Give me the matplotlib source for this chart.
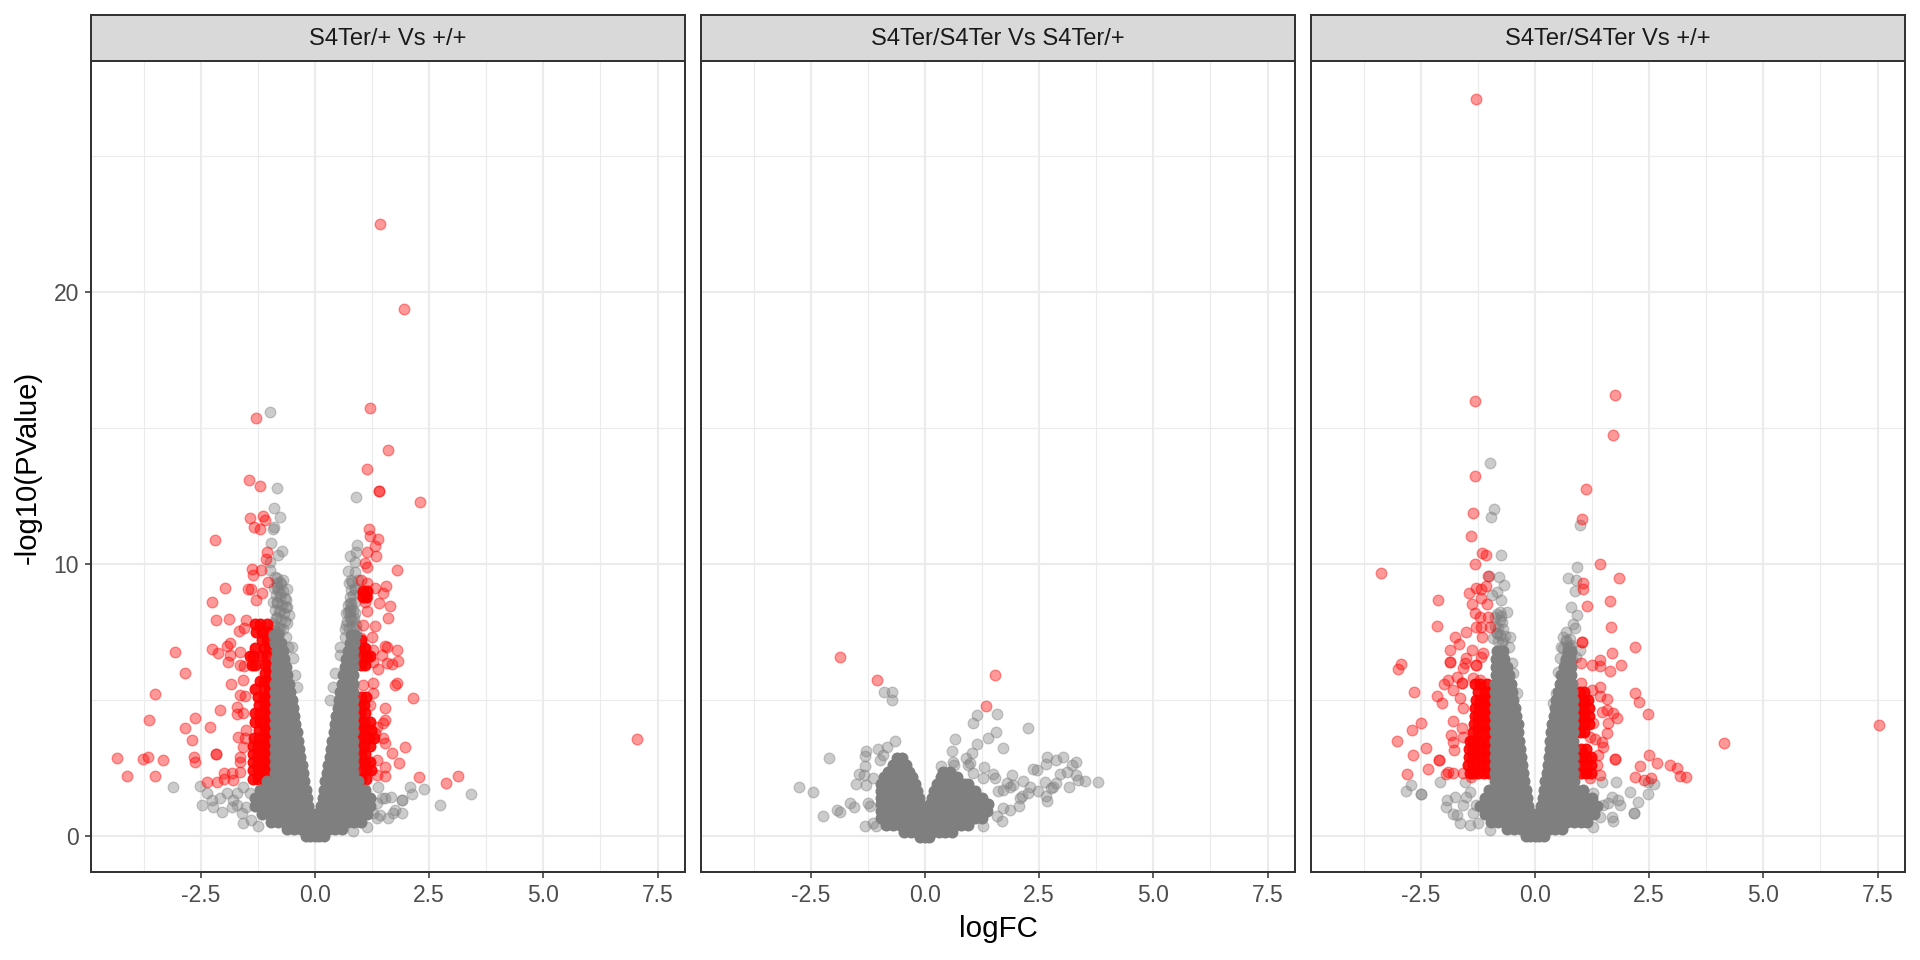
import matplotlib
matplotlib.use("Agg")
import matplotlib.pyplot as plt

plt.rcParams["font.family"] = ["Liberation Sans", "DejaVu Sans"]

# --------------------------------------------
# DATA
# --------------------------------------------

panel_titles = ["S4Ter/+ Vs +/+", "S4Ter/S4Ter Vs S4Ter/+", "S4Ter/S4Ter Vs +/+"]
x_ticks = [-2.5, 0.0, 2.5, 5.0, 7.5]
x_tick_labels = ["-2.5", "0.0", "2.5", "5.0", "7.5"]
x_minor = [-3.75, -1.25, 1.25, 3.75, 6.25]
y_ticks = [0, 10, 20]
y_tick_labels = ["0", "10", "20"]
y_minor = [5, 15, 25]

# panel 1, single points
p1_red_x = [1.42, 1.95, 1.21, 1.61, 1.13, 1.4, 1.4, 2.3, 7.06,
            -1.29, -1.44, -1.2, -1.43, -1.13, -1.09, -1.33, -1.2, -2.19, -1.04, -1.08, -1.37, -1.17, -1.36, -1.02,
            -1.97, -1.47, -1.39, -1.15, -2.26, -1.28, -2.17, -1.88, -1.5, -1.66, -1.55, -3.06, -2.25, -2.13, -1.93,
            -1.85, -1.9, -1.85, -1.64, -1.64, -1.55, -2.84, -1.84, -1.57, -3.5, -1.64, -1.53, -1.71, -2.07, -2.63,
            -3.63, -1.71, -1.57, -2.29, -2.84, -2.69, -1.68, -1.53, -1.5, -1.57, -2.17, -2.17, -2.65, -2.63, -4.34,
            -3.77, -3.65, -3.32, -4.12, -3.49, -1.64, -1.64, -1.82, -1.99, -2.0, -2.15, -2.37, -1.79, -1.64,
            1.19, 1.2, 1.39, 1.31, 1.13, 1.33, 1.09, 1.15, 1.79, 1.02, 1.13, 1.31, 1.55, 1.06, 1.15, 1.5, 1.09, 1.41,
            1.64, 1.13, 1.59, 1.31, 1.06, 1.02, 1.24, 1.06, 1.53, 1.57, 1.79, 1.28, 1.46, 1.13, 1.28, 1.57, 1.69,
            1.82, 1.39, 1.79, 1.75, 1.28, 1.06, 1.28, 2.15, 1.53, 1.2, 1.53, 1.5, 1.35, 1.31, 1.5, 1.53, 1.98, 1.68,
            1.84, 1.53, 1.35, 1.53, 1.35, 2.28, 3.14, 2.88]
p1_red_y = [22.5, 19.4, 15.73, 14.18, 13.5, 12.69, 12.69, 12.27, 3.55,
            15.39, 13.09, 12.87, 11.7, 11.77, 11.6, 11.35, 11.28, 10.88, 10.43, 10.2, 9.83, 9.77, 9.6, 9.35,
            9.1, 9.07, 9.07, 8.95, 8.6, 8.68, 7.95, 7.96, 7.94, 7.55, 7.63, 6.75, 6.88, 6.71, 6.98,
            7.1, 6.4, 6.64, 6.77, 6.28, 6.25, 5.98, 5.6, 5.73, 5.23, 5.18, 5.14, 4.75, 4.61, 4.34,
            4.27, 4.47, 4.5, 4.01, 3.95, 3.52, 3.64, 3.58, 3.89, 3.28, 3.0, 3.0, 2.91, 2.72, 2.86,
            2.83, 2.91, 2.79, 2.21, 2.2, 2.91, 2.72, 2.29, 2.29, 2.09, 1.96, 1.99, 2.05, 2.36,
            11.29, 11.03, 10.92, 10.67, 10.45, 10.29, 10.05, 9.88, 9.77, 9.41, 9.29, 9.1, 9.2, 8.92, 8.8, 8.92, 8.61, 8.58,
            8.47, 8.27, 8.02, 7.72, 7.75, 7.26, 7.3, 6.9, 6.99, 6.96, 6.83, 6.83, 6.65, 6.53, 6.4, 6.34, 6.32,
            6.43, 6.12, 5.63, 5.55, 5.61, 5.55, 5.24, 5.08, 4.69, 4.81, 4.26, 4.13, 4.01, 3.77, 3.58, 3.4, 3.28, 3.03,
            2.69, 2.54, 2.79, 2.21, 2.23, 2.17, 2.21, 1.93]
p1_grey_x = [-0.98, -0.82, -0.89, -0.77, -0.9, -0.91, -0.97, -0.73, -0.8, -0.98, -0.98, -0.88, -0.77, -0.62, -0.84,
             -0.77, -0.63, -0.84, -0.62, -0.77, -0.56, -0.84, -0.62, -0.91, -0.77, -0.63, -0.84, -0.51, -0.47, -0.58,
             -0.44, -0.4,
             0.91, 0.93, 0.77, 0.91, 0.88, 0.73, 0.88, 0.8, 0.95, 0.88, 0.77, 0.73, 0.88, 0.69, 0.84, 0.66, 0.55, 0.55,
             0.44, 0.4, 0.33, 0.77, 0.8, 0.77, 0.91,
             -3.1, -2.52, -2.48, -2.26, -2.22, -2.03, -1.82, -1.93, -2.08, -1.71, -1.57, -1.58, -1.24, -1.39, -1.6,
             -2.37, -1.79, -1.5, -1.42, -1.71,
             3.41, 2.74, 2.39, 2.09, 2.12, 1.9, 1.9, 1.9, 1.7, 1.6, 1.66, 1.46, 1.39, 1.13, 1.35, 1.28, 1.42, 1.35,
             1.53, 1.75, 0.84,
             -0.7, -0.8, -0.9, -0.65, -0.75, -0.85, -0.68, -0.78, -0.88, -0.72, -0.82, -0.92, -0.66, -0.76, -0.86,
             -0.7, -0.8, -0.9, -0.74, -0.84, -0.64, -0.78, -0.88, -0.7, -0.82,
             0.66, 0.74, 0.82, 0.9, 0.7, 0.78, 0.86, 0.68, 0.76, 0.84, 0.72, 0.8, 0.88, 0.76, 0.84, 0.8, 0.88, 0.74, 0.82]
p1_grey_y = [15.58, 12.8, 12.05, 11.74, 11.37, 11.3, 10.76, 10.48, 10.33, 10.09, 9.78, 9.53, 9.35, 9.07, 9.17,
             8.92, 8.67, 8.61, 8.43, 8.31, 8.12, 8.06, 7.82, 7.82, 7.63, 7.33, 7.45, 6.96, 6.53, 6.96,
             5.91, 5.48,
             12.48, 10.7, 10.29, 10.45, 10.09, 9.74, 9.72, 9.41, 9.41, 9.04, 8.55, 8.25, 8.18, 7.75, 7.94, 7.33, 6.96, 6.65,
             5.98, 5.48, 5.0, 8.31, 8.43, 8.06, 7.57,
             1.78, 1.83, 1.13, 1.31, 1.07, 0.86, 1.07, 1.56, 1.37, 1.56, 1.8, 0.45, 0.37, 0.58, 0.82,
             1.56, 1.31, 1.07, 1.56, 1.13,
             1.55, 1.13, 1.71, 1.8, 1.52, 1.31, 1.31, 0.85, 0.85, 0.66, 1.44, 1.37, 1.8, 0.31, 0.64, 0.82, 0.76, 1.19,
             1.37, 0.94, 0.18,
             7.6, 7.65, 7.7, 7.9, 7.95, 8.0, 8.2, 8.25, 8.3, 8.5, 8.55, 8.6, 8.75, 8.8, 8.85,
             9.0, 9.05, 9.1, 9.25, 9.3, 8.4, 7.5, 7.55, 9.4, 9.5,
             7.6, 7.65, 7.7, 7.75, 7.9, 7.95, 8.0, 8.2, 8.25, 8.3, 8.5, 8.55, 8.6, 8.8, 8.85, 9.05, 9.1, 9.3, 9.35]

# panel 1, the packed part of the cloud, row by row
p1_core_y = [0.0, 0.25, 0.5, 0.8, 1.1, 1.4, 1.7, 2.0, 2.3, 2.6, 2.9, 3.2, 3.5, 3.8, 4.1, 4.4, 4.7, 5.0, 5.3, 5.6,
             5.9, 6.2, 6.5, 6.8, 7.1, 7.4]
p1_core_x = [
    [-0.2, -0.1, 0, 0.1, 0.2],
    [-0.6, -0.45, -0.3, -0.15, 0, 0.15, 0.3, 0.45, 0.6],
    [-0.95, -0.8, -0.65, -0.5, -0.35, -0.2, -0.05, 0.1, 0.25, 0.4, 0.55, 0.7, 0.85, 1.0],
    [-1.15, -1.0, -0.85, -0.7, -0.55, -0.4, -0.25, -0.12, 0, 0.12, 0.25, 0.4, 0.55, 0.7, 0.85, 1.0, 1.15],
    [-1.3, -1.15, -1.0, -0.85, -0.7, -0.55, -0.4, -0.25, -0.14, 0.14, 0.25, 0.4, 0.55, 0.7, 0.85, 1.0, 1.2],
    [-1.3, -1.15, -1.0, -0.85, -0.7, -0.55, -0.4, -0.28, -0.17, 0.17, 0.28, 0.4, 0.55, 0.7, 0.85, 1.0, 1.2],
    [-1.2, -1.05, -0.9, -0.75, -0.6, -0.45, -0.32, -0.2, 0.2, 0.32, 0.45, 0.6, 0.75, 0.9, 1.1],
    [-1.05, -0.9, -0.75, -0.6, -0.45, -0.33, -0.23, 0.23, 0.35, 0.5, 0.65, 0.8, 0.95],
    [-0.88, -0.72, -0.56, -0.4, -0.26, 0.26, 0.4, 0.55, 0.7, 0.84],
    [-0.88, -0.72, -0.56, -0.42, -0.29, 0.29, 0.42, 0.56, 0.7, 0.84],
    [-0.88, -0.72, -0.56, -0.44, -0.32, 0.32, 0.44, 0.56, 0.7, 0.84],
    [-0.88, -0.72, -0.58, -0.46, -0.35, 0.35, 0.46, 0.58, 0.7, 0.84],
    [-0.88, -0.74, -0.6, -0.48, -0.38, 0.38, 0.48, 0.6, 0.72, 0.84],
    [-0.88, -0.74, -0.6, -0.5, -0.4, 0.41, 0.5, 0.6, 0.72, 0.84],
    [-0.88, -0.75, -0.62, -0.52, -0.43, 0.44, 0.54, 0.64, 0.74, 0.84],
    [-0.88, -0.76, -0.64, -0.55, -0.46, 0.47, 0.56, 0.66, 0.75, 0.84],
    [-0.88, -0.78, -0.68, -0.58, -0.49, 0.5, 0.58, 0.66, 0.75, 0.84],
    [-0.88, -0.78, -0.68, -0.6, -0.51, 0.53, 0.6, 0.68, 0.76, 0.84],
    [-0.88, -0.8, -0.7, -0.62, -0.54, 0.56, 0.63, 0.7, 0.77, 0.84],
    [-0.88, -0.8, -0.72, -0.64, -0.57, 0.59, 0.66, 0.72, 0.78, 0.84],
    [-0.86, -0.78, -0.7, -0.6, 0.62, 0.68, 0.75, 0.84],
    [-0.85, -0.76, -0.69, -0.63, 0.65, 0.72, 0.78, 0.84],
    [-0.85, -0.76, -0.68, 0.68, 0.76, 0.83],
    [-0.84, -0.77, -0.7, 0.72, 0.78, 0.84],
    [-0.88, -0.82, -0.75, 0.76, 0.86],
    [-0.9, -0.8, 0.8, 0.88],
]
p1_red_core_y = [2.1, 2.4, 2.7, 3.0, 3.3, 3.6, 3.9, 4.2, 4.5, 4.8, 5.1, 5.4, 5.7, 6.0, 6.3, 6.6, 6.9, 7.2, 7.5, 7.8,
                 8.8, 9.0]
p1_red_core_x = [
    [-1.0, -1.12, -1.24, -1.36, 1.0, 1.12],
    [-1.0, -1.12, -1.24, -1.36, 1.0, 1.12, 1.22],
    [-1.0, -1.12, -1.24, -1.36, 0.98, 1.1, 1.2],
    [-1.0, -1.12, -1.24, -1.36, 1.0, 1.1],
    [-1.0, -1.12, -1.24, -1.36, 0.96, 1.08, 1.2],
    [-1.0, -1.1, -1.22, -1.34, 0.95, 1.05, 1.18, 1.3],
    [-1.0, -1.1, -1.22, 0.98, 1.1, 1.22],
    [-1.0, -1.1, -1.2, -1.32, 0.98, 1.08, 1.2],
    [-1.0, -1.1, -1.2, -1.3, 0.98, 1.1],
    [-1.0, -1.1, -1.22, 0.98, 1.08],
    [-1.0, -1.12, -1.25, 1.0, 1.12],
    [-1.0, -1.1, -1.32],
    [-1.0, -1.12, -1.2],
    [-1.0, -1.1],
    [-1.02, -1.1, -1.3, -1.38, 1.0, 1.1],
    [-1.05, -1.15, -1.35, -1.42, 1.0, 1.12, 1.2],
    [-1.0, -1.12, -1.3, 0.98, 1.1],
    [-1.05, -1.15, 1.0],
    [-1.02, -1.15, -1.28],
    [-1.05, -1.2, -1.32],
    [1.05, 1.12],
    [1.05, 1.15],
]

# panel 2
p2_red_x = [-1.85, -1.04, 1.54, 1.33]
p2_red_y = [6.56, 5.74, 5.92, 4.77]
p2_grey_x = [-0.9, -0.72, -0.71, 1.15, 1.57, 1.06, 2.25, 1.55, 1.39, 0.66, 1.13, 1.72, 0.6, 1.04, -0.66, -2.1, -1.28,
             -1.02, -1.3, -0.84, -0.91, -0.98, -1.31, 0.9, 0.98, 0.62, 0.64, 0.95, 1.29, 0.36, 1.06, 1.5, 1.53, 1.9,
             1.28, -1.45, -1.33, -1.13, -1.5, -1.28, -2.75, -2.44, -2.22, -1.92, -1.85, -1.64, -1.55, -1.24, -1.2,
             -1.31, -1.13, -1.06, 1.28, 1.68, 1.57, 1.71, 1.86, 2.06, 2.12, 2.26, 2.48, 1.86, 1.79, 1.71, 1.6, 2.15,
             2.3, 2.63, 2.66, 2.68, 2.77, 2.88, 2.81, 2.95, 3.16, 3.1, 3.36, 3.5, 3.79, 3.3, 3.21, 3.3, 3.03, 2.88,
             2.68, 2.66, 2.36, 2.46, 2.08, 1.93]
p2_grey_y = [5.27, 5.27, 5.0, 4.45, 4.47, 4.15, 3.95, 3.8, 3.59, 3.57, 3.38, 3.21, 3.11, 3.04, 3.49, 2.86, 3.1,
             3.2, 2.94, 3.28, 2.98, 2.79, 2.55, 2.86, 2.67, 2.73, 2.61, 2.61, 2.52, 2.55, 2.3, 2.27, 2.14, 2.24,
             2.12, 2.28, 2.23, 2.12, 1.89, 1.85, 1.78, 1.61, 0.71, 0.96, 0.86, 1.2, 1.04, 1.2, 1.08,
             0.34, 0.47, 0.34, 0.34, 0.55, 0.71, 1.02, 0.93, 1.08, 1.45, 1.57, 1.63, 1.81, 1.94, 1.69, 1.63, 2.02,
             1.78, 1.96, 1.45, 1.26, 1.75, 1.94, 1.81, 2.28, 1.78, 2.33, 2.06, 2.03, 1.97, 2.24, 2.61, 2.7, 2.88, 2.79,
             2.88, 2.65, 2.46, 2.4, 1.38, 1.88]
p2_core_y = [-0.05, 0.15, 0.4, 0.65, 0.9, 1.15, 1.4, 1.65, 1.9, 2.15, 2.35, 2.6, 2.85]
p2_core_x = [
    [-0.1, 0, 0.1],
    [-0.45, -0.3, -0.15, 0, 0.15, 0.3, 0.45, 0.6],
    [-0.85, -0.7, -0.55, -0.4, -0.25, -0.1, 0.05, 0.2, 0.35, 0.5, 0.65, 0.8, 0.95],
    [-0.95, -0.8, -0.65, -0.5, -0.35, -0.2, -0.05, 0.05, 0.2, 0.35, 0.5, 0.65, 0.8, 0.95, 1.1, 1.25],
    [-0.95, -0.8, -0.65, -0.5, -0.35, -0.2, -0.07, 0.09, 0.2, 0.35, 0.5, 0.65, 0.8, 0.95, 1.1, 1.25, 1.35],
    [-0.95, -0.8, -0.65, -0.5, -0.35, -0.2, -0.1, 0.12, 0.25, 0.4, 0.55, 0.7, 0.85, 1.0, 1.15, 1.3, 1.38],
    [-0.95, -0.8, -0.65, -0.5, -0.35, -0.22, -0.13, 0.16, 0.3, 0.45, 0.6, 0.75, 0.9, 1.05, 1.25],
    [-0.95, -0.8, -0.65, -0.5, -0.35, -0.25, -0.17, 0.2, 0.35, 0.5, 0.65, 0.8, 0.95, 1.1],
    [-0.95, -0.8, -0.65, -0.5, -0.35, -0.22, 0.27, 0.4, 0.55, 0.7, 0.85, 0.95],
    [-0.9, -0.75, -0.6, -0.45, -0.29, 0.35, 0.47, 0.6, 0.7],
    [-0.8, -0.67, -0.52, -0.35, 0.4, 0.55],
    [-0.7, -0.55, -0.42],
    [-0.6, -0.5],
]

# panel 3
p3_red_x = [-1.28, -1.31, 1.76, 1.7, -1.31, 1.12, 1.04, -1.35, -1.39, -1.15, -1.07, -1.31, 1.42, -3.36, 1.83, 1.06, 1.06,
            -1.02, -1.28, -1.17, -1.07, -1.44, -2.11, -1.17, -1.37, -1.04, 1.64, 1.13, -1.3, -1.2, -1.02, -2.14, -1.28,
            -1.17, -0.98, 1.67, -1.5, -1.15, -1.74, -1.66, -1.86, 1.04, 1.04, 2.2, 1.68, -1.37, -1.13, -1.86, -1.86,
            -2.92, -3.0, -1.5, -1.53, -1.28, -1.28, -1.57, -1.17, 1.02, 1.24, 1.42, 1.42, 1.88, 1.65, -1.98, -1.9, -1.71,
            -1.6, -1.6, -1.35, -1.2, -1.79, -1.64, -2.65, -2.14, -2.04, 1.02, 1.24, 1.42, 1.42, 1.57, 2.19, 2.28, 2.47,
            1.57, 1.47, 1.71, 1.8, 1.6, 1.57, 1.28, 1.2, 1.31, 1.46, 1.5, -2.5, -2.68, -3.02, -2.39, -2.67, -2.35, -2.79,
            -2.1, -2.1, -1.79, -1.84, -1.79, -1.77, -1.57, -1.6, -1.57, -1.95, -1.9, -1.79, -1.57, -1.39, 2.49, 2.3,
            2.68, 2.95, 3.1, 3.17, 3.3, 2.2, 2.39, 2.54, 1.75, 1.75, 1.39, 1.35, 1.42, 1.2, 1.06, 4.14, 7.54]
p3_red_y = [27.1, 15.98, 16.2, 14.76, 13.24, 12.76, 11.64, 11.89, 11.03, 10.39, 10.33, 10.0, 9.99, 9.68, 9.5, 9.31, 9.07,
            9.57, 9.13, 9.07, 9.19, 8.92, 8.67, 8.74, 8.53, 8.53, 8.64, 8.45, 8.18, 8.06, 8.06, 7.71, 7.67,
            7.67, 7.67, 7.69, 7.48, 7.3, 7.3, 7.04, 6.83, 7.14, 7.14, 6.96, 6.74, 6.83, 6.71, 6.38, 6.38,
            6.31, 6.15, 6.53, 6.34, 6.28, 6.28, 6.16, 6.59, 6.34, 6.28, 6.47, 6.26, 6.28, 6.07, 5.57, 5.73, 5.85,
            5.61, 5.61, 5.79, 5.73, 5.36, 5.06, 5.3, 5.14, 4.9, 5.61, 5.36, 5.48, 5.14, 5.03, 5.24, 4.93, 4.47,
            4.63, 4.54, 4.5, 4.32, 4.13, 3.77, 4.13, 3.64, 3.55, 3.46, 3.28, 4.16, 3.89, 3.48, 3.24, 2.97, 2.47, 2.27,
            2.8, 2.8, 4.23, 3.69, 3.46, 3.15, 4.69, 3.95, 3.64, 2.26, 2.36, 2.32, 2.32, 2.17, 2.97, 2.58,
            2.66, 2.59, 2.48, 2.21, 2.16, 2.15, 2.05, 2.13, 2.81, 2.81, 2.97, 2.6, 2.23, 2.13, 3.03, 3.4, 4.09]
p3_grey_x = [-0.98, -0.9, -0.97, -0.74, -0.79, -0.68, -1.01, -0.84, -0.93, -0.75, 0.98, 0.93, 0.73, 0.91, 0.88, 0.8, 0.93,
             0.84, 0.69, 0.88, 0.62, 0.69, 0.77, 0.98, 0.58, 0.55, 0.91, 0.51, 0.69, 0.47, 0.4,
             -0.62, -0.77, -0.88, -0.73, -0.91, -0.55, -0.56, -0.84, -0.69, -0.51, -0.47, -0.4, -0.77,
             -2.71, -2.82, -2.5, -2.5, -2.08, -1.52, -1.42, -1.93, -1.75, -1.95, -1.8, -1.63, -1.42, -1.57, -1.35, -1.24,
             -0.98, -1.5, -1.28, -1.71,
             1.46, 1.77, 2.08, 2.6, 2.47, 2.48, 2.26, 2.17, 2.17, 1.86, 1.68, 1.82, 1.71, 1.68, 1.28, 1.5, 1.42, 1.28, 1.6,
             -0.72, -0.8, -0.66, -0.76, -0.84, -0.7, -0.8, -0.88, -0.74, -0.82,
             0.66, 0.74, 0.82, 0.7, 0.78, 0.62, 0.72, 0.8, 0.68, 0.76]
p3_grey_y = [13.72, 12.02, 11.74, 10.33, 9.53, 9.23, 9.57, 8.98, 8.86, 8.67, 11.44, 9.9, 9.5, 9.41, 9.0, 8.43, 8.12,
             7.78, 7.48, 7.66, 7.33, 7.14, 6.96, 6.83, 6.96, 6.53, 6.59, 6.04, 6.22, 5.24, 4.87,
             8.25, 8.25, 8.06, 7.88, 7.26, 7.3, 6.96, 7.45, 7.2, 6.34, 5.98, 5.24, 7.94,
             1.87, 1.64, 1.53, 1.53, 1.98, 1.99, 1.62, 1.31, 1.44, 1.04, 0.79, 0.45, 0.39, 1.13, 0.82, 0.45,
             0.21, 1.44, 1.13, 0.76,
             1.99, 1.96, 1.6, 1.9, 1.99, 1.52, 1.25, 0.82, 0.82, 1.13, 1.44, 1.31, 0.55, 0.7, 0.33, 1.13, 0.7, 1.56, 1.19,
             7.1, 7.15, 7.35, 7.4, 7.45, 7.6, 7.65, 7.7, 8.1, 8.15,
             6.4, 6.45, 6.5, 6.7, 6.75, 6.9, 6.95, 7.0, 7.2, 7.25]
p3_core_y = [0.0, 0.25, 0.5, 0.8, 1.1, 1.4, 1.7, 2.0, 2.3, 2.6, 2.9, 3.2, 3.5, 3.8, 4.1, 4.4, 4.7, 5.0, 5.3, 5.6,
             5.9, 6.2, 6.5, 6.8]
p3_core_x = [
    [-0.2, -0.1, 0, 0.1, 0.2],
    [-0.6, -0.45, -0.3, -0.15, 0, 0.15, 0.3, 0.45, 0.6],
    [-0.95, -0.8, -0.65, -0.5, -0.35, -0.2, -0.05, 0.1, 0.25, 0.4, 0.55, 0.7, 0.85, 1.0, 1.15],
    [-1.1, -1.0, -0.85, -0.7, -0.55, -0.4, -0.25, -0.12, 0, 0.12, 0.25, 0.4, 0.55, 0.7, 0.85, 1.0, 1.15, 1.3],
    [-1.2, -1.05, -0.9, -0.75, -0.6, -0.45, -0.3, -0.14, 0.14, 0.3, 0.45, 0.6, 0.75, 0.9, 1.05, 1.2, 1.35],
    [-1.1, -0.95, -0.8, -0.65, -0.5, -0.35, -0.17, 0.17, 0.35, 0.5, 0.65, 0.8, 0.95, 1.1, 1.25],
    [-1.0, -0.85, -0.7, -0.55, -0.4, -0.3, -0.2, 0.2, 0.32, 0.45, 0.6, 0.75, 0.9, 1.05],
    [-0.88, -0.72, -0.56, -0.4, -0.23, 0.23, 0.4, 0.55, 0.7, 0.85],
    [-0.88, -0.72, -0.56, -0.4, -0.26, 0.26, 0.4, 0.55, 0.7, 0.84],
    [-0.88, -0.72, -0.56, -0.42, -0.28, 0.28, 0.42, 0.56, 0.7, 0.84],
    [-0.88, -0.72, -0.56, -0.42, -0.3, 0.3, 0.42, 0.56, 0.7, 0.84],
    [-0.88, -0.72, -0.58, -0.44, -0.32, 0.32, 0.44, 0.58, 0.7, 0.84],
    [-0.88, -0.74, -0.6, -0.46, -0.34, 0.34, 0.46, 0.6, 0.72, 0.84],
    [-0.88, -0.74, -0.6, -0.48, -0.36, 0.36, 0.48, 0.6, 0.72, 0.84],
    [-0.88, -0.75, -0.62, -0.5, -0.38, 0.38, 0.5, 0.62, 0.74, 0.84],
    [-0.88, -0.76, -0.64, -0.52, -0.41, 0.41, 0.52, 0.64, 0.75, 0.84],
    [-0.88, -0.78, -0.66, -0.54, -0.44, 0.44, 0.54, 0.66, 0.75, 0.84],
    [-0.88, -0.78, -0.68, -0.57, -0.47, 0.47, 0.57, 0.68, 0.76, 0.84],
    [-0.88, -0.8, -0.7, -0.6, -0.5, 0.5, 0.6, 0.7, 0.77, 0.82],
    [-0.88, -0.8, -0.7, -0.62, -0.53, 0.54, 0.62, 0.7, 0.78, 0.82],
    [-0.86, -0.78, -0.7, -0.56, 0.58, 0.66, 0.74, 0.8],
    [-0.85, -0.76, -0.68, -0.6, 0.64, 0.72, 0.78],
    [-0.85, -0.76, -0.68, 0.68, 0.76],
    [-0.84, -0.77, -0.7, 0.72, 0.78],
]
p3_red_core_y = [2.3, 2.6, 2.9, 3.2, 3.5, 3.8, 4.1, 4.4, 4.7, 5.0, 5.3, 5.6]
p3_red_core_x = [
    [-1.0, -1.12, -1.24, -1.36, -1.42, 1.0, 1.12, 1.22],
    [-1.0, -1.12, -1.24, -1.36, -1.46, 1.0, 1.12, 1.22],
    [-1.0, -1.12, -1.24, -1.36, -1.44, 1.0, 1.12, 1.22],
    [-1.0, -1.12, -1.24, -1.36, -1.44, 1.0, 1.12],
    [-1.0, -1.12, -1.24, -1.36, -1.42],
    [-1.0, -1.12, -1.24, -1.36, 0.98, 1.08],
    [-1.0, -1.12, -1.24, -1.34, 0.98, 1.08, 1.18],
    [-1.0, -1.12, -1.24, -1.32, 0.98, 1.08, 1.18],
    [-1.0, -1.12, -1.22, -1.3, 0.98, 1.08, 1.18],
    [-1.0, -1.1, -1.2, -1.28, 0.98, 1.08, 1.16],
    [-1.0, -1.1, -1.25, 0.98, 1.08],
    [-1.05, -1.2, -1.3],
]

# --------------------------------------------
# STYLE
# --------------------------------------------

GREY = "#7F7F7F"
RED = "#FF0000"
GRID = "#EBEBEB"
DARK = "#333333"
SIZE = 23
W, H = 1920, 960

panel_left = [91, 701, 1311]
panel_width = 594
panel_top = 61
panel_bottom = 872
strip_top = 15


def flatten(rows_y, rows_x):
    xs, ys = [], []
    for y, row in zip(rows_y, rows_x):
        xs += row
        ys += [y] * len(row)
    return xs, ys


def draw_panel(i, grey, red, core, red_core):
    left = panel_left[i]
    ax = fig.add_axes([left / W, 1 - panel_bottom / H, panel_width / W, (panel_bottom - panel_top) / H])
    ax.set_xlim(-4.9, 8.1)
    ax.set_ylim(-1.336, 28.51)
    ax.set_axisbelow(True)

    ax.set_xticks(x_ticks)
    ax.set_xticklabels(x_tick_labels)
    ax.set_xticks(x_minor, minor=True)
    ax.set_yticks(y_ticks)
    ax.set_yticks(y_minor, minor=True)
    ax.grid(True, which="major", color=GRID, lw=0.95)
    ax.grid(True, which="minor", color=GRID, lw=0.5)
    ax.tick_params(which="minor", length=0)
    ax.tick_params(which="major", color=DARK, labelcolor="#4D4D4D", labelsize=10.3, width=0.7, length=2.9, pad=2.5)
    if i == 0:
        ax.set_yticklabels(y_tick_labels)
    else:
        ax.set_yticklabels([])
        ax.tick_params(axis="y", which="major", length=0)
    for s in ax.spines.values():
        s.set_color(DARK)
        s.set_linewidth(0.9)

    kw = dict(s=SIZE, linewidths=0.6, clip_on=True)
    ax.scatter(grey[0], grey[1], color=GREY, alpha=0.4, **kw)
    ax.scatter(red[0], red[1], color=RED, alpha=0.4, **kw)
    if red_core is not None:
        ax.scatter(red_core[0], red_core[1], color=RED, alpha=0.9, **kw)
    ax.scatter(core[0], core[1], color=GREY, alpha=1.0, **kw)

    strip = fig.add_axes([left / W, 1 - panel_top / H, panel_width / W, (panel_top - strip_top) / H])
    strip.set_facecolor("#D9D9D9")
    strip.set_xticks([])
    strip.set_yticks([])
    for s in strip.spines.values():
        s.set_color(DARK)
        s.set_linewidth(0.9)
    strip.text(0.5, 0.48, panel_titles[i], ha="center", va="center", fontsize=10.7, color="#1A1A1A",
               transform=strip.transAxes)
    return ax


# --------------------------------------------
# DRAW
# --------------------------------------------

fig = plt.figure(figsize=(12, 6), dpi=160, facecolor="white")

draw_panel(0, (p1_grey_x, p1_grey_y), (p1_red_x, p1_red_y), flatten(p1_core_y, p1_core_x),
           flatten(p1_red_core_y, p1_red_core_x))
draw_panel(1, (p2_grey_x, p2_grey_y), (p2_red_x, p2_red_y), flatten(p2_core_y, p2_core_x), None)
draw_panel(2, (p3_grey_x, p3_grey_y), (p3_red_x, p3_red_y), flatten(p3_core_y, p3_core_x),
           flatten(p3_red_core_y, p3_red_core_x))

fig.text(998 / W, 1 - 929 / H, "logFC", ha="center", va="center", fontsize=13.3, color="black")
fig.text(28 / W, 1 - 467 / H, "-log10(PValue)", ha="center", va="center", rotation=90, fontsize=13.2, color="black")

fig.savefig("out.png", dpi=160)
